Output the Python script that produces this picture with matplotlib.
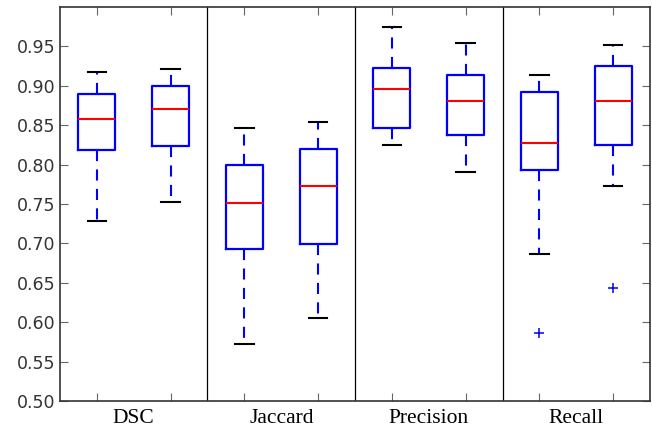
import matplotlib
matplotlib.use("Agg")
import matplotlib.pyplot as plt

# metric groups, two methods per group
groups = ["DSC", "Jaccard", "Precision", "Recall"]

# box statistics, one entry per box (left to right)
whislo = [0.729, 0.753, 0.572, 0.606, 0.825, 0.791, 0.686, 0.773]
q1 = [0.818, 0.823, 0.693, 0.699, 0.847, 0.838, 0.793, 0.825]
med = [0.858, 0.871, 0.751, 0.773, 0.896, 0.881, 0.827, 0.881]
q3 = [0.889, 0.900, 0.800, 0.820, 0.923, 0.914, 0.892, 0.925]
whishi = [0.917, 0.921, 0.847, 0.854, 0.975, 0.954, 0.914, 0.952]
fliers = [[], [], [], [], [], [], [0.586], [0.644]]

yticks = [0.50, 0.55, 0.60, 0.65, 0.70, 0.75, 0.80, 0.85, 0.90, 0.95]

plt.rcParams["lines.scale_dashes"] = False

stats = []
for i in range(len(med)):
    stats.append({
        "whislo": whislo[i], "q1": q1[i], "med": med[i],
        "q3": q3[i], "whishi": whishi[i], "fliers": fliers[i],
    })

fig = plt.figure(figsize=(6.52, 4.29), dpi=100)
ax = fig.add_axes([0.092, 0.065, 0.905, 0.919])

positions = list(range(1, len(stats) + 1))
ax.bxp(
    stats,
    positions=positions,
    widths=0.5,
    boxprops=dict(color="#0000ff", linewidth=1.6),
    medianprops=dict(color="#ff0000", linewidth=1.5),
    whiskerprops=dict(color="#0000ff", linewidth=1.5, linestyle=(0, (8, 6))),
    capprops=dict(color="black", linewidth=1.5),
    flierprops=dict(marker="+", markeredgecolor="#0000ff", markersize=7,
                    markeredgewidth=1.1, linestyle="none"),
    manage_ticks=False,
)

# separators between metric groups
for x in [2.5, 4.5, 6.5]:
    ax.axvline(x, color="black", linewidth=0.9)

ax.set_xlim(0.5, len(stats) + 0.5)
ax.set_ylim(0.5, 1.0)
ax.set_yticks(yticks)
ax.set_yticklabels(["%.2f" % v for v in yticks], fontsize=12.5, color="#333333")

ax.set_xticks(positions)
ax.set_xticklabels([])
ax.set_xticks([1.5, 3.5, 5.5, 7.5], minor=True)
ax.set_xticklabels(groups, minor=True, fontsize=15.5, family="Liberation Serif")
ax.tick_params(axis="x", which="minor", length=0, pad=6)
ax.tick_params(which="major", direction="in", length=6, width=0.8,
               color="#666666", top=True, right=True)

for s in ax.spines.values():
    s.set_linewidth(1.2)
    s.set_color("#333333")

fig.savefig("out.png", dpi=100)
